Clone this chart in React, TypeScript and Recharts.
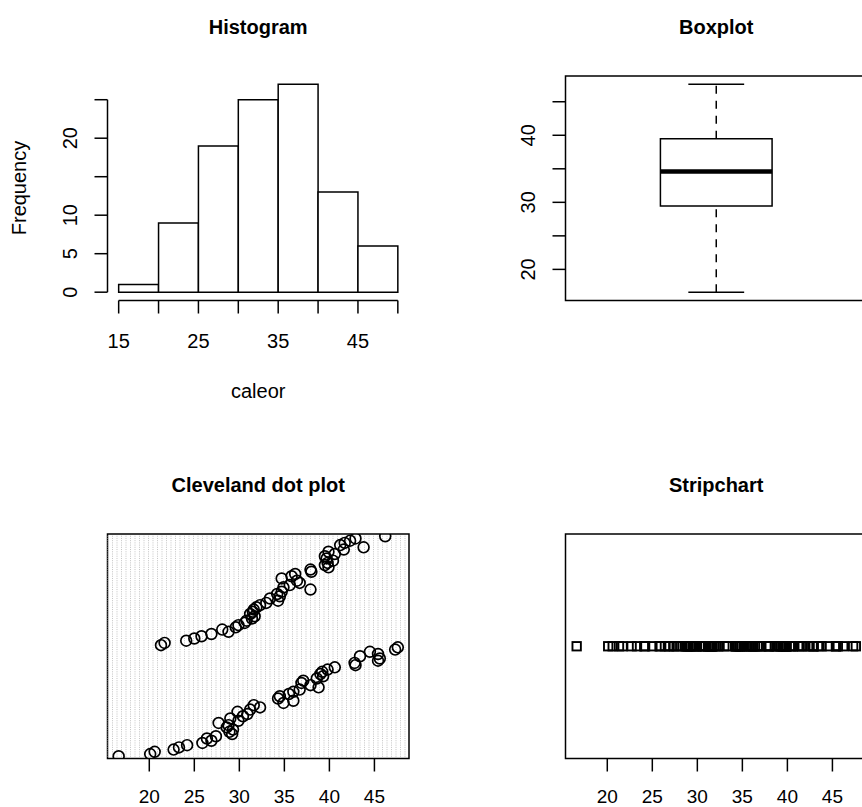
import React from "react"
import {
  ComposedChart,
  ScatterChart,
  Scatter,
  XAxis,
  YAxis,
  ReferenceArea,
  ReferenceLine,
} from "recharts"

// caleor in row order (index 1..50 first group, 51..100 second group)
const caleorGroup1 = [
  16.6, 20.1, 20.6, 22.7, 23.3, 24.2, 25.9, 26.9, 26.4, 27.4,
  29.2, 28.9, 29.3, 28.6, 28.8, 27.7, 29.9, 29.0, 30.4, 30.9,
  29.8, 31.2, 32.3, 31.6, 34.9, 36.0, 34.3, 34.5, 35.5, 36.0,
  36.7, 38.8, 37.9, 36.9, 37.1, 38.6, 39.3, 39.0, 39.2, 39.8,
  40.6, 42.9, 42.8, 45.4, 45.6, 43.4, 45.4, 44.5, 47.3, 47.6,
]
const caleorGroup2 = [
  21.3, 21.7, 24.1, 25.0, 25.8, 26.9, 28.8, 28.1, 29.6, 29.9,
  30.6, 30.8, 31.4, 31.7, 31.2, 31.5, 31.6, 31.9, 32.3, 33.0,
  34.3, 33.4, 34.5, 34.2, 34.7, 37.9, 34.9, 35.6, 36.7, 36.4,
  34.7, 35.8, 36.2, 38.0, 37.9, 39.9, 39.5, 39.8, 40.4, 39.7,
  39.5, 40.6, 39.9, 41.6, 43.8, 41.2, 41.7, 42.3, 42.9, 46.2,
]
const caleor = [...caleorGroup1, ...caleorGroup2]

const breaks = [15, 20, 25, 30, 35, 40, 45, 50]
const histXLabels = [15, 25, 35, 45]
const histYTicks = [0, 5, 10, 15, 20, 25]
const histYLabels = [0, 5, 10, 20]
const boxTicks = [20, 25, 30, 35, 40, 45]
const boxLabels = [20, 30, 40]
const valueTicks = [20, 25, 30, 35, 40, 45]

const FONT = '"Liberation Sans", Arial, Helvetica, sans-serif'
const PANEL = 458
const LW = 1.5

// R style 4% padding
const pad = (lo: number, hi: number): [number, number] => [
  lo - 0.04 * (hi - lo),
  hi + 0.04 * (hi - lo),
]

// histogram counts, right closed, lowest included
const bins = breaks.slice(0, -1).map((lo, i) => {
  const hi = breaks[i + 1]
  const count = caleor.filter((v) => (i === 0 ? v >= lo : v > lo) && v <= hi).length
  return { lo, hi, mid: (lo + hi) / 2, count }
})
const maxCount = Math.max(...bins.map((b) => b.count))

// tukey five number summary
const sorted = [...caleor].sort((a, b) => a - b)
const n = sorted.length
const n4 = Math.floor((n + 3) / 2) / 2
const [vMin, q1, med, q3, vMax] = [1, n4, (n + 1) / 2, n + 1 - n4, n].map(
  (p) => 0.5 * (sorted[Math.floor(p) - 1] + sorted[Math.ceil(p) - 1])
)

const valueDomain = pad(Math.min(...caleor), Math.max(...caleor))
const histXDomain = pad(breaks[0], breaks[breaks.length - 1])
const histYDomain = pad(0, maxCount)

const dotData = caleor.map((v, i) => ({ x: v, y: i + 1 }))
const stripData = caleor.map((v) => ({ x: v, y: 1 }))

const XTick = (props: any) => {
  const { x, y, payload, labels, dy = 34, size = 20 } = props
  if (!labels.includes(payload.value)) return <g />
  return (
    <text x={x} y={y + dy} textAnchor="middle" fontSize={size} fontFamily={FONT} fill="#000">
      {payload.value}
    </text>
  )
}

const YTick = (props: any) => {
  const { x, y, payload, labels } = props
  if (!labels.includes(payload.value)) return <g />
  const bx = x - 17
  return (
    <text
      x={bx}
      y={y}
      transform={`rotate(-90 ${bx} ${y})`}
      textAnchor="middle"
      fontSize={20}
      fontFamily={FONT}
      fill="#000"
    >
      {payload.value}
    </text>
  )
}

const Ring = (p: any) => (
  <circle cx={p.cx} cy={p.cy} r={5.4} fill="none" stroke="#000" strokeWidth={1.7} />
)
const Square = (p: any) => (
  <rect x={p.cx - 4.2} y={p.cy - 4.2} width={8.4} height={8.4} fill="none" stroke="#000" strokeWidth={1.9} />
)

const tickLine = { stroke: "#000", strokeWidth: LW }

function Histogram() {
  return (
    <ComposedChart
      width={PANEL}
      height={PANEL}
      data={bins}
      margin={{ top: 76, right: 49, bottom: 97.5, left: 47.5 }}
    >
      <XAxis
        type="number"
        dataKey="mid"
        domain={histXDomain}
        allowDataOverflow
        ticks={breaks}
        interval={0}
        height={60}
        axisLine={false}
        tickLine={tickLine}
        tickSize={13}
        tickMargin={0}
        tick={(p: any) => <XTick {...p} labels={histXLabels} />}
      />
      <YAxis
        type="number"
        dataKey="count"
        domain={histYDomain}
        allowDataOverflow
        ticks={histYTicks}
        interval={0}
        width={60}
        axisLine={false}
        tickLine={tickLine}
        tickSize={13}
        tickMargin={0}
        tick={(p: any) => <YTick {...p} labels={histYLabels} />}
      />
      {bins.map((b) => (
        <ReferenceArea
          key={b.lo}
          x1={b.lo}
          x2={b.hi}
          y1={0}
          y2={b.count}
          fill="#fff"
          fillOpacity={1}
          stroke="#000"
          strokeWidth={LW}
          ifOverflow="visible"
        />
      ))}
      <ReferenceLine
        segment={[
          { x: breaks[0], y: histYDomain[0] },
          { x: breaks[breaks.length - 1], y: histYDomain[0] },
        ]}
        stroke="#000"
        strokeWidth={LW}
        ifOverflow="visible"
      />
      <ReferenceLine
        segment={[
          { x: histXDomain[0], y: histYTicks[0] },
          { x: histXDomain[0], y: histYTicks[histYTicks.length - 1] },
        ]}
        stroke="#000"
        strokeWidth={LW}
        ifOverflow="visible"
      />
    </ComposedChart>
  )
}

function Boxplot() {
  return (
    <ComposedChart
      width={PANEL}
      height={PANEL}
      margin={{ top: 76, right: 49, bottom: 157.5, left: 47.5 }}
    >
      <XAxis type="number" dataKey="x" domain={[0.46, 1.54]} allowDataOverflow hide />
      <YAxis
        type="number"
        dataKey="y"
        domain={valueDomain}
        allowDataOverflow
        ticks={boxTicks}
        interval={0}
        width={60}
        axisLine={false}
        tickLine={tickLine}
        tickSize={13}
        tickMargin={0}
        tick={(p: any) => <YTick {...p} labels={boxLabels} />}
      />
      <ReferenceLine
        segment={[{ x: 1, y: vMin }, { x: 1, y: q1 }]}
        stroke="#000"
        strokeWidth={LW}
        strokeDasharray="8 7"
      />
      <ReferenceLine
        segment={[{ x: 1, y: q3 }, { x: 1, y: vMax }]}
        stroke="#000"
        strokeWidth={LW}
        strokeDasharray="8 7"
      />
      <ReferenceLine segment={[{ x: 0.9, y: vMin }, { x: 1.1, y: vMin }]} stroke="#000" strokeWidth={LW} />
      <ReferenceLine segment={[{ x: 0.9, y: vMax }, { x: 1.1, y: vMax }]} stroke="#000" strokeWidth={LW} />
      <ReferenceArea
        x1={0.8}
        x2={1.2}
        y1={q1}
        y2={q3}
        fill="#fff"
        fillOpacity={1}
        stroke="#000"
        strokeWidth={LW}
      />
      <ReferenceLine segment={[{ x: 0.8, y: med }, { x: 1.2, y: med }]} stroke="#000" strokeWidth={4.5} />
      <ReferenceArea
        x1={0.46}
        x2={1.54}
        y1={valueDomain[0]}
        y2={valueDomain[1]}
        fill="none"
        stroke="#000"
        strokeWidth={LW}
        ifOverflow="visible"
      />
    </ComposedChart>
  )
}

function ValueAxis() {
  return (
    <XAxis
      type="number"
      dataKey="x"
      domain={valueDomain}
      allowDataOverflow
      ticks={valueTicks}
      interval={0}
      height={60}
      axisLine={false}
      tickLine={tickLine}
      tickSize={13}
      tickMargin={0}
      tick={(p: any) => <XTick {...p} labels={valueTicks} dy={31.5} size={19} />}
    />
  )
}

function DotPlot() {
  return (
    <ScatterChart
      width={PANEL}
      height={PANEL}
      margin={{ top: 76, right: 49, bottom: 97.5, left: 107.5 }}
    >
      {ValueAxis()}
      <YAxis type="number" dataKey="y" domain={[0, n + 1]} allowDataOverflow hide />
      {dotData.map((d) => (
        <ReferenceLine
          key={d.y}
          y={d.y}
          stroke="#c4c4c4"
          strokeWidth={1}
          strokeDasharray="1 3.5"
        />
      ))}
      <Scatter data={dotData} shape={Ring} isAnimationActive={false} />
      <ReferenceArea
        x1={valueDomain[0]}
        x2={valueDomain[1]}
        y1={0}
        y2={n + 1}
        fill="none"
        stroke="#000"
        strokeWidth={LW}
        ifOverflow="visible"
      />
    </ScatterChart>
  )
}

function StripChart() {
  return (
    <ScatterChart
      width={PANEL}
      height={PANEL}
      margin={{ top: 76, right: 49, bottom: 97.5, left: 107.5 }}
    >
      {ValueAxis()}
      <YAxis type="number" dataKey="y" domain={[0.5, 1.5]} allowDataOverflow hide />
      <Scatter data={stripData} shape={Square} isAnimationActive={false} />
      <ReferenceArea
        x1={valueDomain[0]}
        x2={valueDomain[1]}
        y1={0.5}
        y2={1.5}
        fill="none"
        stroke="#000"
        strokeWidth={LW}
        ifOverflow="visible"
      />
    </ScatterChart>
  )
}

const titleStyle = { fontFamily: FONT, fontWeight: 700, fontSize: 20, fill: "#000" }
const labelStyle = { fontFamily: FONT, fontSize: 20, fill: "#000" }

export default function App() {
  const cx = 258.2
  return (
    <div
      style={{
        position: "absolute",
        left: 0,
        top: 0,
        width: 862,
        height: 807,
        overflow: "hidden",
        background: "#fff",
      }}
    >
      <div style={{ position: "absolute", left: 0, top: 0 }}>
        <Histogram />
      </div>
      <div style={{ position: "absolute", left: PANEL, top: 0 }}>
        <Boxplot />
      </div>
      <div style={{ position: "absolute", left: 0, top: PANEL }}>
        <DotPlot />
      </div>
      <div style={{ position: "absolute", left: PANEL, top: PANEL }}>
        <StripChart />
      </div>
      <svg
        width={862}
        height={807}
        style={{ position: "absolute", left: 0, top: 0, pointerEvents: "none" }}
      >
        <text x={cx} y={34} textAnchor="middle" style={titleStyle}>Histogram</text>
        <text x={cx + PANEL} y={34} textAnchor="middle" style={titleStyle}>Boxplot</text>
        <text x={cx} y={34 + PANEL} textAnchor="middle" style={titleStyle}>Cleveland dot plot</text>
        <text x={cx + PANEL} y={34 + PANEL} textAnchor="middle" style={titleStyle}>Stripchart</text>
        <text x={cx} y={398} textAnchor="middle" style={labelStyle}>caleor</text>
        <text x={26} y={188} textAnchor="middle" transform="rotate(-90 26 188)" style={labelStyle}>
          Frequency
        </text>
      </svg>
    </div>
  )
}
